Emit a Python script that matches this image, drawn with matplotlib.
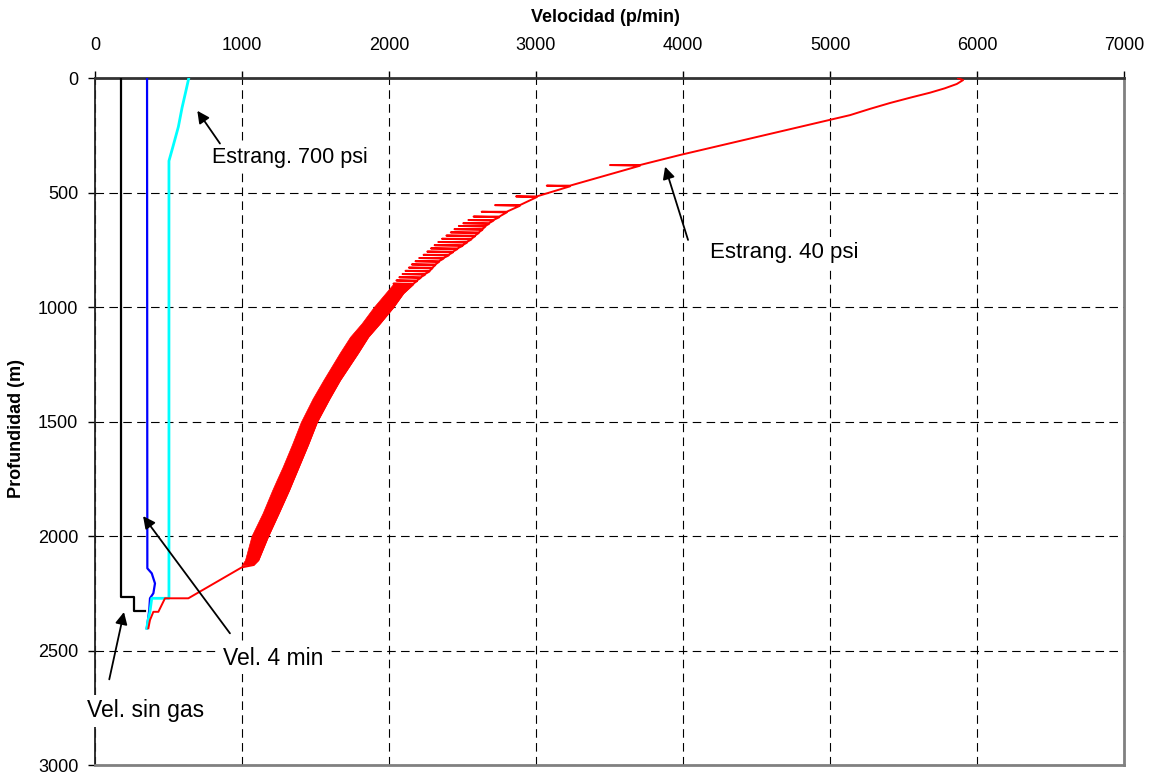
import numpy as np
import matplotlib
matplotlib.use("Agg")
from matplotlib import pyplot as plt

plt.rcParams['font.family'] = ['Liberation Sans', 'DejaVu Sans']

# Vel. sin gas (black)
sin_gas_depth = [0, 2266, 2266, 2327, 2327]
sin_gas_vel = [175, 175, 265, 265, 340]

# Vel. 4 min (blue)
vel4_depth = [0, 2141, 2163, 2207, 2250, 2272, 2323, 2367, 2403]
vel4_vel = [354, 356, 386, 408, 397, 374, 369, 360, 352]

# Estrang. 700 psi (cyan)
e700_depth = [0, 60, 130, 213, 300, 362, 2272, 2272, 2330, 2370, 2403]
e700_vel = [638, 617, 592, 567, 530, 503, 503, 386, 374, 360, 352]

# Estrang. 40 psi (red)
e40_top_depth = [1, 9, 26, 45, 64, 85, 109, 135, 162, 336]
e40_top_vel = [5871, 5905, 5862, 5780, 5680, 5550, 5408, 5270, 5136, 3980]

# saw teeth: depth, velocity on the curve, velocity at the tooth tip
tooth_depth = [380, 470, 517, 555, 584, 605, 620, 634, 646, 660, 674, 688, 702, 716,
               730, 744, 758, 772, 786, 800, 814, 828, 842, 856, 870, 884, 898]
tooth_main = [3707, 3231, 3005, 2890, 2800, 2750, 2710, 2680, 2655, 2635, 2610, 2585,
              2560, 2530, 2500, 2465, 2435, 2405, 2370, 2340, 2315, 2295, 2275, 2245,
              2215, 2190, 2165]
tooth_tip = [3503, 3073, 2864, 2721, 2630, 2575, 2540, 2505, 2475, 2445, 2420, 2390,
             2360, 2335, 2310, 2285, 2260, 2235, 2205, 2180, 2155, 2135, 2112, 2092,
             2070, 2050, 2030]

# dense part of the saw-tooth (left / right edge)
band_depth = [898, 940, 1001, 1071, 1130, 1200, 1319, 1400, 1502, 1600, 1700, 1755,
              1800, 1900, 1999, 2105, 2127]
band_left = [2030, 1975, 1895, 1814, 1735, 1665, 1553, 1480, 1400, 1340, 1275, 1236,
             1205, 1140, 1065, 1020, 997]
band_right = [2165, 2097, 2029, 1939, 1859, 1790, 1667, 1595, 1510, 1450, 1385, 1349,
              1320, 1250, 1179, 1111, 1077]

e40_bot_depth = [2137, 2272, 2272, 2331, 2331, 2367, 2403]
e40_bot_vel = [998, 635, 476, 431, 397, 374, 363]

x_ticks = [0, 1000, 2000, 3000, 4000, 5000, 6000, 7000]
y_ticks = [0, 500, 1000, 1500, 2000, 2500, 3000]

# assemble the red polyline
red_d = list(e40_top_depth)
red_v = list(e40_top_vel)
for d, m, t in zip(tooth_depth, tooth_main, tooth_tip):
    red_d += [d, d, d + 3]
    red_v += [m, t, m]
red_d += band_depth[1:] + e40_bot_depth
red_v += band_right[1:] + e40_bot_vel

fig = plt.figure(figsize=(11.53, 7.78), dpi=100)
ax = fig.add_axes([0.0824, 0.0167, 0.8925, 0.8830])

ax.plot(sin_gas_vel, sin_gas_depth, color='black', lw=1.6, zorder=3)
ax.plot(vel4_vel, vel4_depth, color='#0000ff', lw=1.6, zorder=3)
ax.plot(e700_vel, e700_depth, color='#00ffff', lw=2.0, zorder=3)
ax.plot(red_v, red_d, color='#ff0000', lw=1.4, zorder=3)
ax.fill_betweenx(band_depth, band_left, band_right, color='#ff0000', lw=0.5, zorder=3)

ax.set_xlim(0, 7000)
ax.set_ylim(3000, 0)
ax.set_xticks(x_ticks)
ax.set_yticks(y_ticks)
ax.xaxis.set_ticks_position('top')
ax.tick_params(axis='x', direction='out', length=5, pad=12, labelsize=13, width=1)
ax.tick_params(axis='y', direction='out', length=5, pad=7, labelsize=13, width=1)

ax.grid(True, color='black', lw=0.8, linestyle=(0, (7.7, 4.8)))
ax.set_axisbelow(True)

ax.spines['top'].set_color('#333333')
ax.spines['top'].set_linewidth(2)
ax.spines['left'].set_color('#222222')
ax.spines['left'].set_linewidth(1.3)
for s in ['right', 'bottom']:
    ax.spines[s].set_color('#808080')
    ax.spines[s].set_linewidth(2)

fig.text(605 / 1153, 1 - 17 / 778, 'Velocidad (p/min)', ha='center', va='center',
         fontsize=13, fontweight='bold')
fig.text(17 / 1153, 1 - 428 / 778, 'Profundidad (m)', ha='center', va='center',
         rotation=90, fontsize=13, fontweight='bold')

arrow = dict(arrowstyle='-|>', color='black', lw=1.3, mutation_scale=18,
             shrinkA=0, shrinkB=0)
box = dict(facecolor='white', edgecolor='none', pad=3)

# arrow tip / tail, then label
ax.annotate('', xy=(696, 143), xytext=(850, 286), arrowprops=arrow, zorder=5)
ax.text(796, 345, 'Estrang. 700 psi', fontsize=15.5, va='center', ha='left', bbox=box, zorder=4)

ax.annotate('', xy=(3878, 387), xytext=(4034, 707), arrowprops=arrow, zorder=5)
ax.text(4184, 760, 'Estrang. 40 psi', fontsize=16, va='center', ha='left', bbox=box, zorder=4)

ax.annotate('', xy=(327, 1913), xytext=(918, 2425), arrowprops=arrow, zorder=5)
ax.text(869, 2533, 'Vel. 4 min', fontsize=16.5, va='center', ha='left', bbox=box, zorder=4)

ax.annotate('', xy=(197, 2332), xytext=(97, 2626), arrowprops=arrow, zorder=5)
ax.text(-52, 2764, 'Vel. sin gas', fontsize=16.5, va='center', ha='left', bbox=box,
        zorder=4, clip_on=False)

fig.savefig('out.png', dpi=100)
